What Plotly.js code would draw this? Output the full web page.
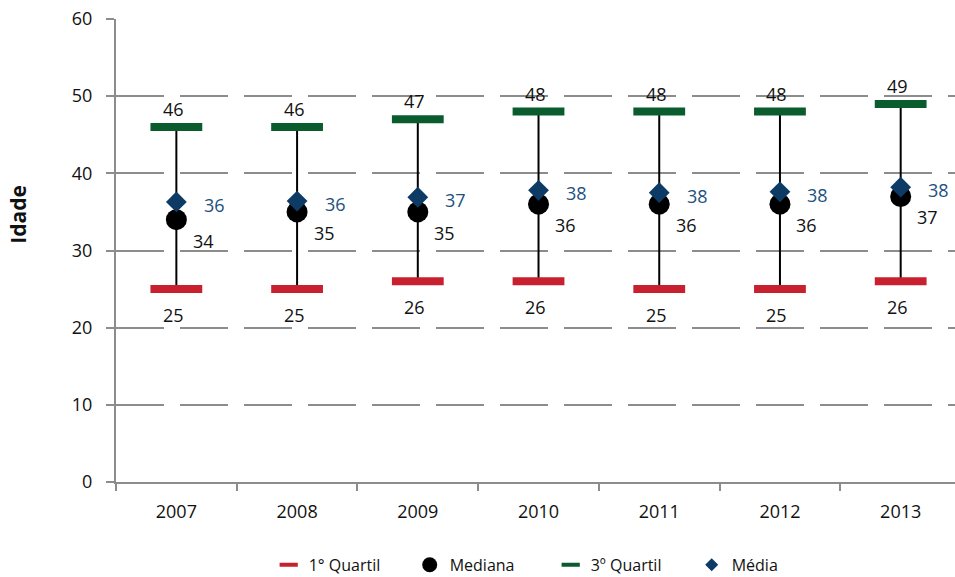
<!DOCTYPE html>
<html>
<head>
<meta charset="utf-8">
<script src="https://cdn.plot.ly/plotly-3.0.1.min.js"></script>
<style>html,body{margin:0;padding:0;background:#fff;}#chart{width:955px;height:577px;}</style>
</head>
<body>
<div id="chart"></div>
<script>
const years = ['2007','2008','2009','2010','2011','2012','2013'];
const q1 = [25, 25, 26, 26, 25, 25, 26];
const median = [34, 35, 35, 36, 36, 36, 37];
const q3 = [46, 46, 47, 48, 48, 48, 49];
const mean = [36.3, 36.4, 36.9, 37.8, 37.5, 37.6, 38.2];
const yTicks = [0, 10, 20, 30, 40, 50, 60];

const RED = '#C8202E', GREEN = '#0A5C2E', NAVY = '#0E3B65', LABELNAVY = '#22507F', GRAY = '#8C8C8C';
const FONT = 'Open Sans, Noto Sans, sans-serif';

const traces = [
  {
    type: 'scatter', mode: 'markers', x: years, y: median, name: 'Mediana', showlegend: false,
    marker: {symbol: 'circle', size: 21, color: '#000'},
    error_y: {type: 'data', symmetric: false,
      array: q3.map((v, i) => v - median[i]),
      arrayminus: median.map((v, i) => v - q1[i]),
      color: '#000', thickness: 2, width: 0},
    hoverinfo: 'skip'
  },
  {
    type: 'scatter', mode: 'markers', x: years, y: q1, name: '1° Quartil', showlegend: false,
    marker: {symbol: 'line-ew', size: 37, color: RED, line: {width: 8, color: RED}}
  },
  {
    type: 'scatter', mode: 'markers', x: years, y: q3, name: '3º Quartil', showlegend: false,
    marker: {symbol: 'line-ew', size: 37, color: GREEN, line: {width: 8, color: GREEN}}
  },
  {
    type: 'scatter', mode: 'markers', x: years, y: mean, name: 'Média', showlegend: false,
    marker: {symbol: 'diamond', size: 16, color: NAVY}
  },
  // legend entries
  {type: 'scatter', mode: 'markers', x: [null], y: [null], name: '1° Quartil', legendrank: 1,
    marker: {symbol: 'line-ew', size: 13, color: RED, line: {width: 4, color: RED}}},
  {type: 'scatter', mode: 'markers', x: [null], y: [null], name: 'Mediana', legendrank: 2,
    marker: {symbol: 'circle', size: 15, color: '#000'}},
  {type: 'scatter', mode: 'markers', x: [null], y: [null], name: '3º Quartil', legendrank: 3,
    marker: {symbol: 'line-ew', size: 13, color: GREEN, line: {width: 4, color: GREEN}}},
  {type: 'scatter', mode: 'markers', x: [null], y: [null], name: 'Média', legendrank: 4,
    marker: {symbol: 'diamond', size: 10, color: NAVY}}
];

const labelFont = {family: FONT, size: 18, color: '#111'};
const annotations = [];
years.forEach((yr, i) => {
  annotations.push({xref: 'x', yref: 'y', x: i, y: q3[i], text: String(Math.round(q3[i])), showarrow: false,
    xanchor: 'center', yanchor: 'middle', xshift: -3, yshift: 18, font: labelFont});
  annotations.push({xref: 'x', yref: 'y', x: i, y: q1[i], text: String(Math.round(q1[i])), showarrow: false,
    xanchor: 'center', yanchor: 'middle', xshift: -3, yshift: -26, font: labelFont});
  annotations.push({xref: 'x', yref: 'y', x: i, y: median[i], text: String(Math.round(median[i])), showarrow: false,
    xanchor: 'center', yanchor: 'middle', xshift: 27, yshift: -21, font: labelFont});
  annotations.push({xref: 'x', yref: 'y', x: i, y: mean[i], text: String(Math.round(mean[i])), showarrow: false,
    xanchor: 'center', yanchor: 'middle', xshift: 38, yshift: -3,
    font: {family: FONT, size: 18, color: LABELNAVY}});
});
annotations.push({xref: 'paper', yref: 'paper', x: -0.117, y: 0.579, xanchor: 'center', yanchor: 'middle',
  text: '<b>Idade</b>', textangle: -90, showarrow: false, font: {family: FONT, size: 21, color: '#111'}});

const layout = {
  width: 955, height: 577,
  margin: {l: 116, r: 0, t: 19, b: 95, autoexpand: false},
  paper_bgcolor: '#fff', plot_bgcolor: '#fff',
  font: {family: FONT, size: 18, color: '#111'},
  showlegend: true,
  legend: {orientation: 'h', x: 0.182, xanchor: 'left', y: -0.179, yanchor: 'middle',
    font: {family: FONT, size: 16, color: '#111'}, entrywidth: 96, traceorder: 'normal'},
  xaxis: {type: 'category', range: [-0.5, 6.45], showgrid: false, zeroline: false,
    showline: true, linecolor: GRAY, linewidth: 2,
    ticks: 'outside', tickson: 'boundaries', ticklen: 7, tickcolor: GRAY, tickwidth: 2,
    ticklabelstandoff: 12, tickfont: {family: FONT, size: 18, color: '#111'}},
  yaxis: {range: [0, 60], tickvals: yTicks, ticktext: yTicks.map(String),
    showgrid: true, gridcolor: GRAY, gridwidth: 2, griddash: '48px,16px', zeroline: false,
    showline: true, linecolor: GRAY, linewidth: 2,
    ticks: 'outside', ticklen: 8, tickcolor: GRAY, tickwidth: 2,
    ticklabelstandoff: 10, tickfont: {family: FONT, size: 18, color: '#111'}},
  annotations: annotations
};

Plotly.newPlot('chart', traces, layout, {displayModeBar: false, staticPlot: true});
</script>
</body>
</html>
